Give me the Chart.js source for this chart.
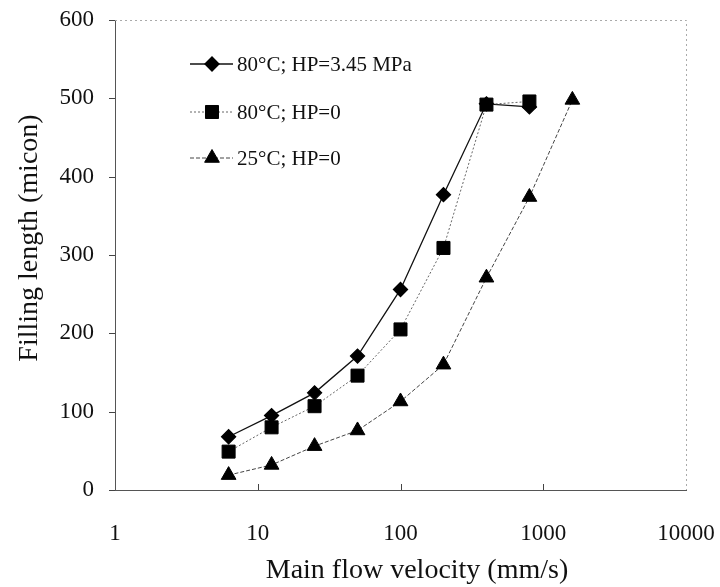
<!DOCTYPE html>
<html>
<head>
<meta charset="utf-8">
<script src="https://cdn.jsdelivr.net/npm/chart.js@4/dist/chart.umd.min.js"></script>
<style>
  html, body { margin: 0; padding: 0; background: #fff; }
  #wrap { width: 720px; height: 587px; }
</style>
</head>
<body>
<div id="wrap"><canvas id="c" width="720" height="587"></canvas></div>
<script>
// Main flow velocity (mm/s) sampled at each condition
const velocity80 = [6.25, 12.5, 25, 50, 100, 200, 400, 800];
const velocity25 = [6.25, 12.5, 25, 50, 100, 200, 400, 800, 1600];

// Filling length (micon)
const fillHP345 = [68, 95, 124, 171, 256, 377, 493, 489];
const fillHP0_80 = [49, 80, 107, 146, 205, 309, 492, 496];
const fillHP0_25 = [19, 32, 56, 76, 113, 160, 271, 374, 498];

const seriesNames = ['80\u00B0C; HP=3.45 MPa', '80\u00B0C; HP=0', '25\u00B0C; HP=0'];
const xTickValues = [1, 10, 100, 1000, 10000];
const yTickValues = [0, 100, 200, 300, 400, 500, 600];
const xTitle = 'Main flow velocity (mm/s)';
const yTitle = 'Filling length (micon)';

const SERIF = '"Liberation Serif", "DejaVu Serif", serif';

function pts(xs, ys) { return xs.map((x, i) => ({ x: x, y: ys[i] })); }

// order: squares are painted above the diamonds where they overlap
const datasets = [
  {
    label: seriesNames[0], data: pts(velocity80, fillHP345), order: 1,
    borderColor: '#111', borderWidth: 1.3, borderDash: [],
    pointStyle: 'rectRot', pointRadius: 7,
    pointBackgroundColor: '#000', pointBorderColor: '#000'
  },
  {
    label: seriesNames[1], data: pts(velocity80, fillHP0_80), order: 0,
    borderColor: '#666', borderWidth: 1, borderDash: [2, 2],
    pointStyle: 'rect', pointRadius: 9.2,
    pointBackgroundColor: '#000', pointBorderColor: '#000'
  },
  {
    label: seriesNames[2], data: pts(velocity25, fillHP0_25), order: 2,
    borderColor: '#444', borderWidth: 1, borderDash: [4, 2],
    pointStyle: 'triangle', pointRadius: 8.5,
    pointBackgroundColor: '#000', pointBorderColor: '#000'
  }
];

// Dotted top/right frame, inward ticks on the velocity axis, outward ticks on the length axis
const framePlugin = {
  id: 'frame',
  afterDatasetsDraw(chart) {
    const { ctx, chartArea: a, scales } = chart;
    ctx.save();
    ctx.strokeStyle = '#aaa';
    ctx.lineWidth = 1;
    ctx.setLineDash([2, 3]);
    ctx.beginPath();
    ctx.moveTo(a.left, a.top + 0.5);
    ctx.lineTo(a.right + 0.5, a.top + 0.5);
    ctx.lineTo(a.right + 0.5, a.bottom);
    ctx.stroke();
    ctx.setLineDash([]);
    ctx.strokeStyle = '#444';
    ctx.beginPath();
    xTickValues.slice(1, -1).forEach(v => {
      const px = Math.round(scales.x.getPixelForValue(v)) + 0.5;
      ctx.moveTo(px, a.bottom);
      ctx.lineTo(px, a.bottom - 6);
    });
    yTickValues.forEach(v => {
      const py = Math.round(scales.y.getPixelForValue(v)) + 0.5;
      ctx.moveTo(a.left, py);
      ctx.lineTo(a.left - 6, py);
    });
    ctx.stroke();
    ctx.restore();
  }
};

// Axis titles
const titlePlugin = {
  id: 'axisTitles',
  afterDraw(chart) {
    const { ctx } = chart;
    ctx.save();
    ctx.fillStyle = '#111';
    ctx.font = '28px ' + SERIF;
    ctx.textAlign = 'center';
    ctx.textBaseline = 'alphabetic';
    ctx.fillText(xTitle, 417, 578);
    ctx.translate(37, 238);
    ctx.rotate(-Math.PI / 2);
    ctx.fillText(yTitle, 0, 0);
    ctx.restore();
  }
};

// Legend drawn as line + marker + label inside the plot
const legendPlugin = {
  id: 'innerLegend',
  afterDraw(chart) {
    const { ctx } = chart;
    const rows = [64, 112, 158];
    ctx.save();
    chart.data.datasets.forEach((ds, i) => {
      const y = rows[i];
      ctx.strokeStyle = ds.borderColor;
      ctx.lineWidth = ds.borderWidth;
      ctx.setLineDash(ds.borderDash);
      ctx.beginPath();
      ctx.moveTo(190, y);
      ctx.lineTo(233, y);
      ctx.stroke();
      ctx.setLineDash([]);
      ctx.fillStyle = '#000';
      ctx.strokeStyle = '#000';
      Chart.helpers.drawPoint(ctx, { pointStyle: ds.pointStyle, radius: ds.pointRadius, borderWidth: 1, rotation: 0 }, 212, y);
      ctx.fillStyle = '#111';
      ctx.font = '21px ' + SERIF;
      ctx.textBaseline = 'middle';
      ctx.textAlign = 'left';
      ctx.fillText(ds.label, 237, y + 1);
    });
    ctx.restore();
  }
};

new Chart(document.getElementById('c'), {
  type: 'line',
  data: { datasets: datasets },
  options: {
    responsive: false,
    animation: false,
    layout: { padding: { top: 20, right: 34, left: 0, bottom: 0 } },
    plugins: { legend: { display: false }, tooltip: { enabled: false } },
    scales: {
      x: {
        type: 'logarithmic', min: 1, max: 10000,
        afterBuildTicks: s => { s.ticks = xTickValues.map(v => ({ value: v })); },
        afterFit: s => { s.height = 97; },
        ticks: {
          color: '#111', font: { family: SERIF, size: 23 }, padding: 0,
          maxRotation: 0, autoSkip: false,
          callback: v => String(v)
        },
        grid: { display: true, drawOnChartArea: false, drawTicks: true, tickLength: 30, tickColor: 'rgba(0,0,0,0)' },
        border: { display: true, color: '#555', width: 1 },
        title: { display: false }
      },
      y: {
        type: 'linear', min: 0, max: 600,
        afterBuildTicks: s => { s.ticks = yTickValues.map(v => ({ value: v })); },
        afterFit: s => { s.width = 115; },
        ticks: { color: '#111', font: { family: SERIF, size: 23 }, padding: 0 },
        grid: { display: true, drawOnChartArea: false, drawTicks: true, tickLength: 21, tickColor: 'rgba(0,0,0,0)' },
        border: { display: true, color: '#555', width: 1 },
        title: { display: false }
      }
    }
  },
  plugins: [framePlugin, titlePlugin, legendPlugin]
});
</script>
</body>
</html>
